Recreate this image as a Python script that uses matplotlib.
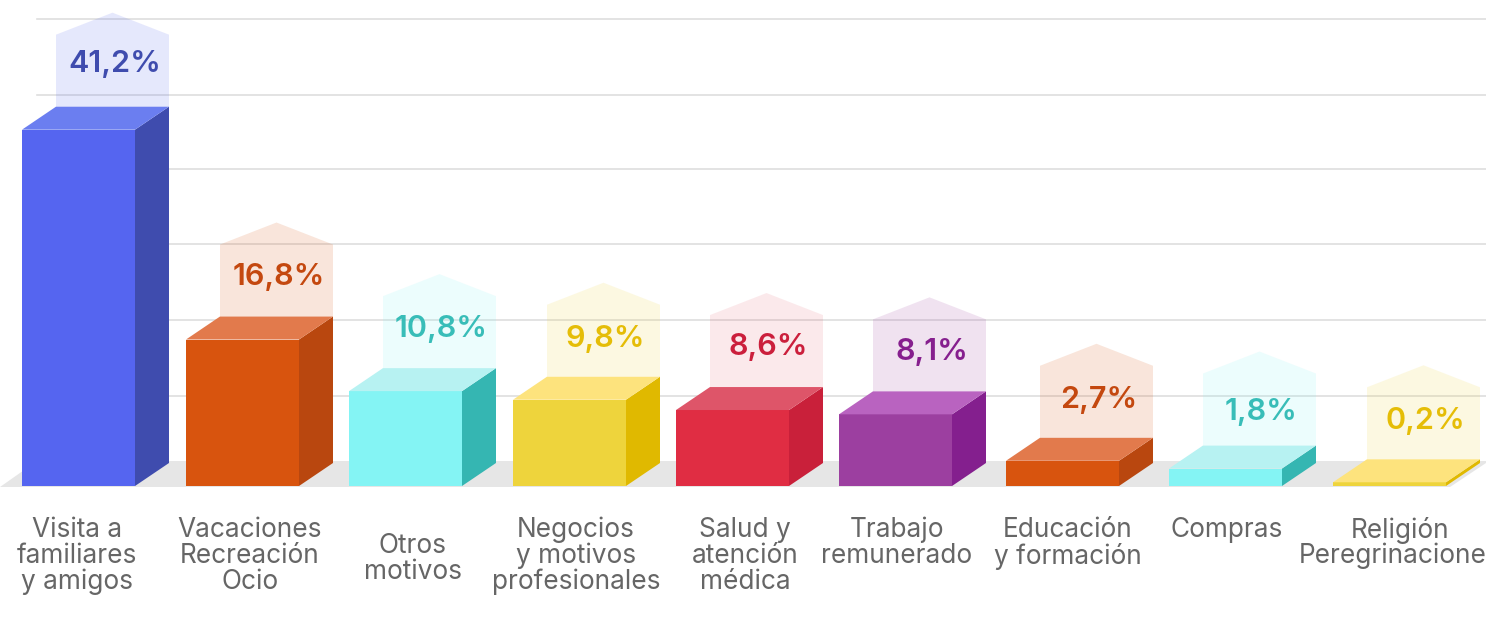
import matplotlib
matplotlib.use('Agg')
import matplotlib.pyplot as plt
from matplotlib.patches import Polygon

categories = ['Visita a\nfamiliares\ny amigos', 'Vacaciones\nRecreación\nOcio', 'Otros\nmotivos',
              'Negocios\ny motivos\nprofesionales', 'Salud y\natención\nmédica', 'Trabajo\nremunerado',
              'Educación\ny formación', 'Compras', 'Religión\nPeregrinaciones']
values = [41.2, 16.8, 10.8, 9.8, 8.6, 8.1, 2.7, 1.8, 0.2]
value_labels = ['41,2%', '16,8%', '10,8%', '9,8%', '8,6%', '8,1%', '2,7%', '1,8%', '0,2%']

front_colors = ['#5565f0', '#d8540e', '#84f4f4', '#eed43c', '#e02d43', '#9c3fa0', '#d8540e', '#84f4f4', '#eed43c']
top_colors = ['#6b7ef0', '#e27a4c', '#b7f2f2', '#fde37d', '#de5569', '#b963c0', '#e27a4c', '#b7f2f2', '#fde37d']
side_colors = ['#3f4cae', '#b9470f', '#35b6b2', '#e0b900', '#c9203a', '#841f8e', '#b9470f', '#35b6b2', '#e0b900']
text_colors = ['#3f4cae', '#c4480f', '#38bdb8', '#e5bd07', '#cb1f3c', '#861f8e', '#c4480f', '#38bdb8', '#e5bd07']
ghost_alpha = [0.15, 0.15, 0.15, 0.15, 0.1, 0.15, 0.15, 0.15, 0.15]

# layout, in pixels of the 1486x620 picture
bar_left = [22, 186, 349, 513, 676, 839, 1006, 1169, 1333]
label_center = [77, 250, 413, 576, 745, 897, 1068, 1227, 1400]
label_first_line = [530, 530, 546, 530, 530, 530, 530, 530, 530]
value_lift = [43, 40, 39, 38, 40, 39, 38, 34, 38]
grid_pixels = [19, 95, 169, 244, 320, 396]
bar_w = 113
depth_x = 34
depth_y = 23
zero_pixel = 484
base_pixel = 486
px_per_unit = 8.6


def py(p):
    # pixel row -> value on the y axis
    return (zero_pixel - p) / px_per_unit


fig = plt.figure(figsize=(14.86, 6.2), dpi=100)
ax = fig.add_axes([0, 0, 1, 1])
ax.set_xlim(0, 1486)
ax.set_ylim(py(620), py(0))
ax.axis('off')

for g in grid_pixels:
    ax.plot([37, 1486], [py(g), py(g)], color='#dedede', lw=1.2, zorder=1)

# floor
ax.add_patch(Polygon([(0, py(487)), (37, py(461)), (1486, py(461)), (1486, py(463)), (1450, py(487))],
                     closed=True, fc='#e6e6e6', ec='none', zorder=2))

for i in range(len(values)):
    x = bar_left[i]
    y0 = py(base_pixel)
    y1 = values[i]
    d = depth_y / px_per_unit
    # pale house behind the bar
    ax.add_patch(Polygon([(x + depth_x, y1 + d), (x + depth_x, y1 + d + 72 / px_per_unit),
                          (x + depth_x + bar_w / 2, y1 + d + 94 / px_per_unit),
                          (x + depth_x + bar_w, y1 + d + 72 / px_per_unit), (x + depth_x + bar_w, y1 + d)],
                         closed=True, fc=front_colors[i], ec='none', alpha=ghost_alpha[i], zorder=3))
    # front, side, top
    ax.add_patch(Polygon([(x, y0), (x, y1), (x + bar_w, y1), (x + bar_w, y0)],
                         closed=True, fc=front_colors[i], ec='none', zorder=5))
    ax.add_patch(Polygon([(x + bar_w, y0), (x + bar_w, y1), (x + bar_w + depth_x, y1 + d), (x + bar_w + depth_x, y0 + d)],
                         closed=True, fc=side_colors[i], ec='none', zorder=5))
    ax.add_patch(Polygon([(x, y1), (x + depth_x, y1 + d), (x + bar_w + depth_x, y1 + d), (x + bar_w, y1)],
                         closed=True, fc=top_colors[i], ec='none', zorder=5))
    ax.text(x + depth_x + bar_w / 2 + 2, y1 + d + value_lift[i] / px_per_unit, value_labels[i], color=text_colors[i],
            fontsize=22, fontweight='semibold', family='Inter', ha='center', va='center', zorder=6)
    for j, line in enumerate(categories[i].split('\n')):
        ax.text(label_center[i], py(label_first_line[i] + 26 * j), line, color='#666666', fontsize=18.9,
                family='Inter', fontweight='normal', ha='center', va='center', zorder=6, clip_on=True)

fig.savefig('out.png', dpi=100)
